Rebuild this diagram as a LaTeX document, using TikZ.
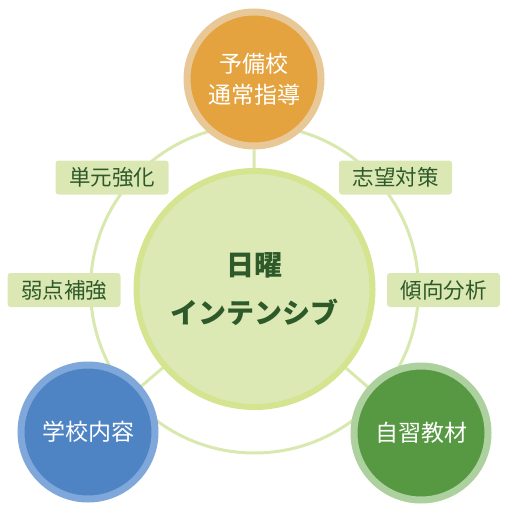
\documentclass[tikz,border=0pt]{standalone}
\usepackage{fontspec}
\setmainfont{Noto Sans CJK JP}
\usetikzlibrary{backgrounds}
\definecolor{ringc}{HTML}{D8E8AE}
\definecolor{cfill}{HTML}{DDE9B5}
\definecolor{cbord}{HTML}{D4E48F}
\definecolor{ofill}{HTML}{E4A33F}
\definecolor{obord}{HTML}{E8C896}
\definecolor{bfill}{HTML}{4F84C4}
\definecolor{bbord}{HTML}{7FA7D9}
\definecolor{gfill}{HTML}{579943}
\definecolor{gbord}{HTML}{ADD09F}
\definecolor{lbfill}{HTML}{DCE8B4}
\definecolor{dtext}{HTML}{2E5A2A}
\tikzset{
  sat/.style={circle, inner sep=0pt, line width=7pt, minimum size=134pt, text=white,
    align=center, font=\fontsize{23}{31}\selectfont},
  tagbox/.style={rectangle, rounded corners=3pt, fill=lbfill, text=dtext,
    minimum width=113pt, minimum height=34pt, inner sep=0pt,
    font=\fontsize{21.5}{26}\selectfont},
  link/.style={draw=ringc, line width=3pt}
}
\begin{document}
\begin{tikzpicture}[x=1pt,y=-1pt]
\useasboundingbox (0,0) rectangle (509,513);
\node[circle, inner sep=0pt, line width=6pt, draw=cbord, fill=cfill, minimum size=236pt,
  text=dtext, align=center, font=\bfseries\fontsize{28}{48}\selectfont] (hub) at (254.5,289) {日曜\\インテンシブ};
\node[sat, draw=obord, fill=ofill] (top) at (254,79) {予備校\\通常指導};
\node[sat, draw=bbord, fill=bfill] (bl) at (88,432) {学校内容};
\node[sat, draw=gbord, fill=gfill] (br) at (421,433) {自習教材};
\node[tagbox] (t1) at (112,177.5) {単元強化};
\node[tagbox] (t2) at (64,290) {弱点補強};
\node[tagbox] (t3) at (395.5,177.5) {志望対策};
\node[tagbox] (t4) at (443.5,290) {傾向分析};
\begin{scope}[on background layer]
\draw[link] (hub.center) circle (164pt);
\draw[link] (hub) -- (top);
\draw[link] (hub) -- (bl);
\draw[link] (hub) -- (br);
\end{scope}
\end{tikzpicture}
\end{document}
